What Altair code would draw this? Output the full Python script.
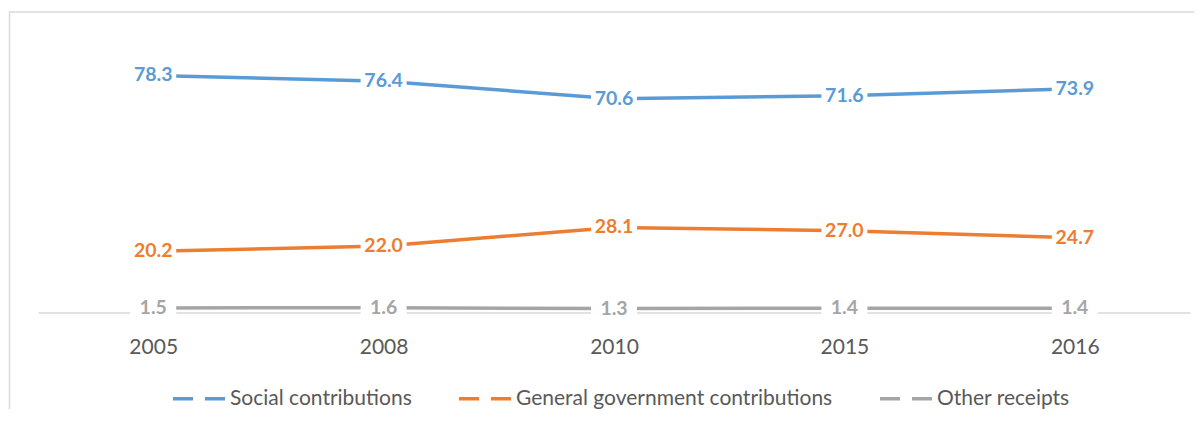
import altair as alt
import pandas as pd

years = ["2005", "2008", "2010", "2015", "2016"]
series = ["Social contributions", "General government contributions", "Other receipts"]
social = [78.3, 76.4, 70.6, 71.6, 73.9]
govt = [20.2, 22.0, 28.1, 27.0, 24.7]
other = [1.5, 1.6, 1.3, 1.4, 1.4]
colors = ["#5b9bd5", "#ed7d31", "#a5a5a5"]

rows = []
for name, vals in zip(series, [social, govt, other]):
    for y, v in zip(years, vals):
        rows.append({"year": y, "series": name, "value": v})
df = pd.DataFrame(rows)

FONT = "Lato"

x_enc = alt.X("year:N", sort=years,
              scale=alt.Scale(type="point", padding=0.5),
              axis=alt.Axis(title=None, ticks=False, grid=False,
                            domainColor="#d9d9d9", domainWidth=1.5,
                            labelFont=FONT, labelFontSize=21, labelColor="#595959",
                            labelPadding=35, labelBaseline="middle", labelAngle=0))
y_enc = alt.Y("value:Q", scale=alt.Scale(domain=[0, 90]), axis=None)

base = alt.Chart(df)

frame = alt.Chart(pd.DataFrame({"a": [0]})).mark_rect(
    fillOpacity=0, stroke="#d9d9d9", strokeWidth=1.5
).encode(x=alt.value(-28.5), x2=alt.value(1400), y=alt.value(-28), y2=alt.value(700))

lines = base.mark_line(strokeWidth=3.5).encode(
    x=x_enc, y=y_enc,
    color=alt.Color("series:N", sort=series,
                    scale=alt.Scale(domain=series, range=colors),
                    legend=alt.Legend(orient="none", legendX=133, legendY=330,
                                      direction="horizontal", title=None,
                                      symbolType="stroke", symbolSize=2809,
                                      symbolStrokeWidth=3.5, symbolDash=[20, 12],
                                      labelFont=FONT, labelFontSize=21,
                                      labelColor="#595959", columnPadding=40,
                                      labelOffset=2, labelLimit=1000)),
    detail="series:N",
)

boxes = base.mark_point(
    shape="M-1,-0.43H1V0.43H-1Z", size=2116, filled=True,
    fill="white", opacity=1, strokeWidth=0
).encode(x=x_enc, y=y_enc)

texts = []
for name, c in zip(series, colors):
    texts.append(
        base.transform_filter(alt.datum.series == name).mark_text(
            font=FONT, fontWeight="bold", fontSize=19.5, baseline="middle",
            align="center", color=c
        ).encode(x=x_enc, y=y_enc, text=alt.Text("value:Q", format=".1f"))
    )

chart = alt.layer(frame, lines, boxes, *texts).properties(
    width=1152, height=272.5,
    background="white",
    padding={"left": 30, "top": 32, "right": 4, "bottom": 96},
    autosize=alt.AutoSizeParams(type="none"),
).configure_view(stroke=None, strokeWidth=0)

chart.save("out.html", embed_options={"renderer": "svg", "actions": False})
